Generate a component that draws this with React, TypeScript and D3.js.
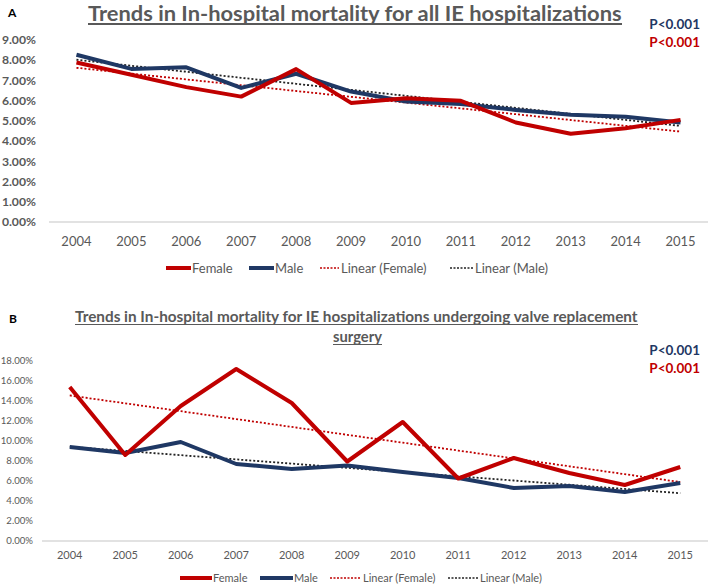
import React, { useLayoutEffect, useRef, useState } from "react";
import * as d3 from "d3";

const years = ["2004","2005","2006","2007","2008","2009","2010","2011","2012","2013","2014","2015"];

const femaleA = [7.89, 7.28, 6.67, 6.2, 7.56, 5.89, 6.12, 5.99, 4.92, 4.36, 4.64, 5.05];
const maleA = [8.27, 7.57, 7.65, 6.63, 7.33, 6.45, 5.96, 5.84, 5.54, 5.3, 5.2, 4.92];

const femaleB = [15.4, 8.6, 13.5, 17.2, 13.8, 7.95, 11.9, 6.25, 8.3, 6.8, 5.6, 7.4];
const maleB = [9.4, 8.8, 9.9, 7.7, 7.2, 7.55, 6.9, 6.3, 5.3, 5.5, 4.9, 5.8];

const ticksA = [0, 1, 2, 3, 4, 5, 6, 7, 8, 9];
const ticksB = [0, 2, 4, 6, 8, 10, 12, 14, 16, 18];

const legendLabels = ["Female", "Male", "Linear (Female)", "Linear (Male)"];

const RED = "#C00000";
const BLUE = "#1F3864";
const GRAY = "#595959";
const FONT = "Lato, 'Open Sans', sans-serif";

function linearFit(vals: number[]): number[] {
  const xs = vals.map((_, i) => i + 1);
  const mx = d3.mean(xs)!;
  const my = d3.mean(vals)!;
  let num = 0, den = 0;
  xs.forEach((x, i) => { num += (x - mx) * (vals[i] - my); den += (x - mx) ** 2; });
  const b = num / den;
  const a = my - b * mx;
  return xs.map((x) => a + b * x);
}

function FitText(props: { x: number; y: number; width: number; fontSize: number; text: string; anchor?: string }) {
  const ref = useRef<SVGTextElement>(null);
  const [sx, setSx] = useState(1);
  useLayoutEffect(() => {
    if (ref.current) {
      const w = ref.current.getComputedTextLength();
      if (w > 0) setSx(props.width / w);
    }
  }, [props.width, props.text, props.fontSize]);
  const ax = props.anchor === "middle" ? props.x + props.width / 2 : props.x;
  return (
    <text ref={ref} x={0} y={0} transform={`translate(${ax},${props.y}) scale(${sx},1)`}
      textAnchor={props.anchor === "middle" ? "middle" : "start"}
      fontSize={props.fontSize} fontWeight="bold" fill={GRAY} fontFamily={FONT}>{props.text}</text>
  );
}

type PanelProps = {
  female: number[];
  male: number[];
  ticks: number[];
  yMax: number;
  y0: number;
  y1: number;
  x0: number;
  x1: number;
  tickFont: number;
  tickBold: boolean;
  tickRight: number;
  xLabelY: number;
  xFont: number;
  legendY: number;
  legendFont: number;
  legendXs: number[];
  lineW: number;
};

function Panel(p: PanelProps) {
  const x = d3.scaleBand<string>().domain(years).range([p.x0, p.x1]);
  const y = d3.scaleLinear().domain([0, p.yMax]).range([p.y0, p.y1]);
  const cx = (d: string) => (x(d) ?? 0) + x.bandwidth() / 2;
  const line = d3.line<number>().x((_, i) => cx(years[i])).y((v) => y(v));
  const fTrend = linearFit(p.female);
  const mTrend = linearFit(p.male);
  const lx = p.legendXs;
  return (
    <g>
      <line x1={p.x0} x2={p.x1} y1={y(0)} y2={y(0)} stroke="#d9d9d9" strokeWidth={1.5} />
      {p.ticks.map((t) => (
        <text key={t} x={p.tickRight} y={y(t)} dy="0.35em" textAnchor="end"
          fontSize={p.tickFont} fontWeight={p.tickBold ? "bold" : "normal"} fill={GRAY} fontFamily={FONT}>
          {t.toFixed(2) + "%"}
        </text>
      ))}
      {years.map((yr) => (
        <text key={yr} x={cx(yr)} y={p.xLabelY} dy="0.35em" textAnchor="middle"
          fontSize={p.xFont} fill={GRAY} fontFamily={FONT}>{yr}</text>
      ))}
      <path d={line(fTrend) ?? ""} fill="none" stroke={RED} strokeWidth={1.8} strokeDasharray="2,2" />
      <path d={line(mTrend) ?? ""} fill="none" stroke="#222" strokeWidth={1.8} strokeDasharray="2,2" />
      <path d={line(p.male) ?? ""} fill="none" stroke={BLUE} strokeWidth={p.lineW} strokeLinejoin="round" />
      <path d={line(p.female) ?? ""} fill="none" stroke={RED} strokeWidth={p.lineW} strokeLinejoin="round" />
      <line x1={lx[0]} x2={lx[1]} y1={p.legendY} y2={p.legendY} stroke={RED} strokeWidth={p.lineW} />
      <text x={lx[1] + 1} y={p.legendY} dy="0.35em" fontSize={p.legendFont} fill={GRAY} fontFamily={FONT}>{legendLabels[0]}</text>
      <line x1={lx[2]} x2={lx[3]} y1={p.legendY} y2={p.legendY} stroke={BLUE} strokeWidth={p.lineW} />
      <text x={lx[3] + 1} y={p.legendY} dy="0.35em" fontSize={p.legendFont} fill={GRAY} fontFamily={FONT}>{legendLabels[1]}</text>
      <line x1={lx[4]} x2={lx[5]} y1={p.legendY} y2={p.legendY} stroke={RED} strokeWidth={1.5} strokeDasharray="2,1.5" />
      <text x={lx[5] + 2} y={p.legendY} dy="0.35em" fontSize={p.legendFont} fill={GRAY} fontFamily={FONT}>{legendLabels[2]}</text>
      <line x1={lx[6]} x2={lx[7]} y1={p.legendY} y2={p.legendY} stroke="#222" strokeWidth={1.5} strokeDasharray="2,1.5" />
      <text x={lx[7] + 2} y={p.legendY} dy="0.35em" fontSize={p.legendFont} fill={GRAY} fontFamily={FONT}>{legendLabels[3]}</text>
    </g>
  );
}

export default function App() {
  return (
    <svg width={709} height={584} style={{ position: "absolute", left: 0, top: 0, background: "#fff" }}>
      <rect width={709} height={584} fill="#fff" />
      {/* Panel A */}
      <text x={8} y={17} fontSize={12} fontWeight="bold" fill="#000" fontFamily={FONT}>A</text>
      <FitText x={88} y={21} width={534} fontSize={21} text="Trends in In-hospital mortality for all IE hospitalizations" />
      <line x1={88} x2={622} y1={24} y2={24} stroke={GRAY} strokeWidth={1.8} />
      <text x={700} y={24} dy="0.35em" textAnchor="end" fontSize={13.5} fontWeight="bold" fill={BLUE} fontFamily={FONT}>P&lt;0.001</text>
      <text x={700} y={42} dy="0.35em" textAnchor="end" fontSize={13.5} fontWeight="bold" fill={RED} fontFamily={FONT}>P&lt;0.001</text>
      <Panel female={femaleA} male={maleA} ticks={ticksA} yMax={9}
        y0={222} y1={40} x0={49} x1={708}
        tickFont={12.2} tickBold={true} tickRight={36}
        xLabelY={241} xFont={13}
        legendY={268} legendFont={13}
        legendXs={[166, 191, 249, 274, 320, 339, 450, 473]} lineW={4} />
      {/* Panel B */}
      <text x={9} y={323} fontSize={12} fontWeight="bold" fill="#000" fontFamily={FONT}>B</text>
      <FitText x={75} y={322} width={563} fontSize={16} text="Trends in In-hospital mortality for IE hospitalizations undergoing valve replacement" />
      <line x1={75} x2={638} y1={324.5} y2={324.5} stroke={GRAY} strokeWidth={1.2} />
      <FitText x={333} y={342} width={49} fontSize={16} text="surgery" anchor="middle" />
      <line x1={333} x2={382} y1={344.5} y2={344.5} stroke={GRAY} strokeWidth={1.2} />
      <text x={700} y={350} dy="0.35em" textAnchor="end" fontSize={13.5} fontWeight="bold" fill={BLUE} fontFamily={FONT}>P&lt;0.001</text>
      <text x={700} y={368} dy="0.35em" textAnchor="end" fontSize={13.5} fontWeight="bold" fill={RED} fontFamily={FONT}>P&lt;0.001</text>
      <Panel female={femaleB} male={maleB} ticks={ticksB} yMax={18}
        y0={541} y1={361} x0={42} x1={708}
        tickFont={9.6} tickBold={false} tickRight={33}
        xLabelY={555} xFont={11}
        legendY={578} legendFont={11}
        legendXs={[180, 212, 260, 293, 330, 361, 448, 478]} lineW={4} />
    </svg>
  );
}
